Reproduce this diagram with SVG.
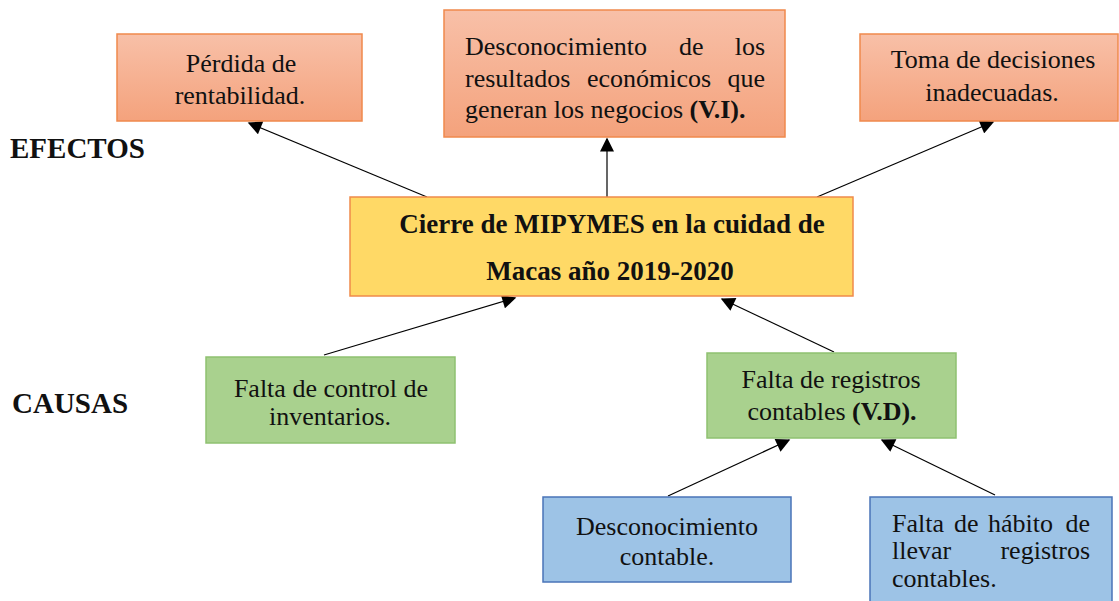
<svg xmlns="http://www.w3.org/2000/svg" width="1119" height="601" viewBox="0 0 1119 601">
<defs>
<linearGradient id="og" x1="0" y1="0" x2="0" y2="1"><stop offset="0" stop-color="#f8c0a8"/><stop offset="1" stop-color="#f4a27c"/></linearGradient>
<marker id="ah" viewBox="0 0 10 10" refX="9" refY="5" markerWidth="15" markerHeight="14" markerUnits="userSpaceOnUse" orient="auto"><path d="M0,0 L10,5 L0,10 z" fill="#000"/></marker>
<style>
.t{font-family:"Liberation Serif","Times New Roman",serif;font-size:26px;fill:#111}
.b{font-weight:bold}
.big{font-size:27px}
.lbl{font-size:29px;font-weight:bold}
.eff{fill:url(#og);stroke:#f0894c;stroke-width:1.5}
.cen{fill:#ffd966;stroke:#f08a4b;stroke-width:1.5}
.cau{fill:#a9d18e;stroke:#8fc170;stroke-width:1.5}
.sub{fill:#9dc3e6;stroke:#4a74b8;stroke-width:1.5}
.c{stroke:#000;stroke-width:1.2;fill:none;marker-end:url(#ah)}
</style>
</defs>
<rect width="1119" height="601" fill="#fff"/>
<text class="t lbl" x="10" y="158">EFECTOS</text>
<text class="t lbl" x="12" y="413">CAUSAS</text>
<g id="connectors">
<line class="c" x1="427" y1="197" x2="249" y2="123"/>
<line class="c" x1="607" y1="197" x2="607" y2="139"/>
<line class="c" x1="817" y1="197" x2="993" y2="122"/>
<line class="c" x1="324" y1="355" x2="515" y2="298"/>
<line class="c" x1="834" y1="352" x2="722" y2="299"/>
<line class="c" x1="668" y1="496" x2="789" y2="440"/>
<line class="c" x1="995" y1="495" x2="882" y2="440"/>
</g>
<g id="perdida">
<rect class="eff" x="117" y="34" width="245" height="87"/>
<text class="t" text-anchor="middle" x="241" y="72">Pérdida de</text>
<text class="t" text-anchor="middle" x="240" y="104">rentabilidad.</text>
</g>
<g id="desconocimiento">
<rect class="eff" x="444" y="10" width="341" height="127"/>
<text class="t" x="465" y="55">Desconocimiento</text>
<text class="t" x="679" y="55">de</text>
<text class="t" x="765" y="55" text-anchor="end">los</text>
<text class="t" x="465" y="87">resultados</text>
<text class="t" x="587" y="87">económicos</text>
<text class="t" x="765" y="87" text-anchor="end">que</text>
<text class="t" x="465" y="118">generan los negocios <tspan class="b">(V.I).</tspan></text>
</g>
<g id="toma">
<rect class="eff" x="860" y="34" width="258" height="87"/>
<text class="t" text-anchor="middle" x="993" y="68">Toma de decisiones</text>
<text class="t" text-anchor="middle" x="992" y="101">inadecuadas.</text>
</g>
<g id="cierre">
<rect class="cen" x="350" y="197" width="503" height="99"/>
<text class="t b big" text-anchor="middle" x="612" y="233">Cierre de MIPYMES en la cuidad de</text>
<text class="t b big" text-anchor="middle" x="610" y="280">Macas año 2019-2020</text>
</g>
<g id="inventarios">
<rect class="cau" x="206" y="357" width="249" height="86"/>
<text class="t" text-anchor="middle" x="331" y="397">Falta de control de</text>
<text class="t" text-anchor="middle" x="330" y="425">inventarios.</text>
</g>
<g id="registros">
<rect class="cau" x="707" y="353" width="249" height="85"/>
<text class="t" text-anchor="middle" x="831" y="388">Falta de registros</text>
<text class="t" text-anchor="middle" x="832" y="420">contables <tspan class="b">(V.D).</tspan></text>
</g>
<g id="desc-contable">
<rect class="sub" x="543" y="497" width="248" height="85"/>
<text class="t" text-anchor="middle" x="667" y="535">Desconocimiento</text>
<text class="t" text-anchor="middle" x="667" y="565">contable.</text>
</g>
<g id="habito">
<rect class="sub" x="870" y="497" width="242" height="110"/>
<text class="t" x="892" y="532">Falta</text>
<text class="t" x="954" y="532">de</text>
<text class="t" x="988" y="532">hábito</text>
<text class="t" x="1090" y="532" text-anchor="end">de</text>
<text class="t" x="892" y="559">llevar</text>
<text class="t" x="1090" y="559" text-anchor="end">registros</text>
<text class="t" x="892" y="587">contables.</text>
</g>
</svg>
